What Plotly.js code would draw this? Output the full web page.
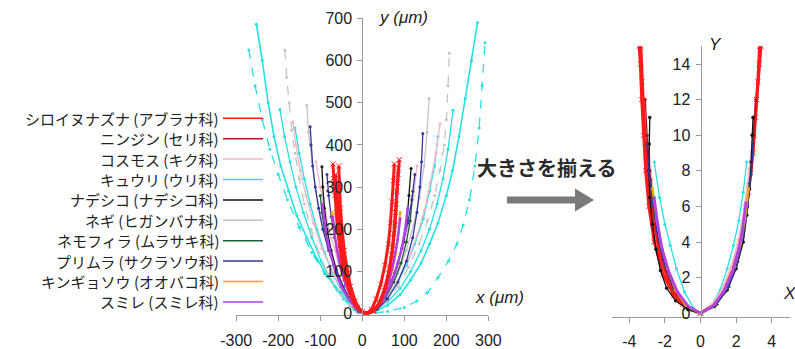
<!DOCTYPE html>
<html><head><meta charset="utf-8">
<script src="https://cdn.plot.ly/plotly-3.0.1.min.js"></script>
<style>html,body{margin:0;padding:0;background:#fff}#chart{width:795px;height:349px}</style>
</head><body><div id="chart"></div>
<script>
// ---------- legend / categories ----------
const speciesNames = ["シロイヌナズナ (アブラナ科)","ニンジン (セリ科)","コスモス (キク科)","キュウリ (ウリ科)","ナデシコ (ナデシコ科)","ネギ (ヒガンバナ科)","ネモフィラ (ムラサキ科)","プリムラ (サクラソウ科)","キンギョソウ (オオバコ科)","スミレ (スミレ科)"];
const speciesColors = ["#ff1a1a","#b0102a","#f2b6c4","#22e2e2","#111111","#c4c4c4","#1d5e38","#3434a0","#f5a800","#b040e8"];

// ---------- raw shapes, x (µm), y (µm) ----------
const kyuuriAX = [-252,-238,-224,-210,-194,-175,-156,-132,-108,-80,-53,-30,-13,10,30,60,90,115,140,160,180,200,215,230,245,260,274];
const kyuuriAY = [686,600,500,420,350,290,233,180,130,85,51,22,5,0,5,20,45,80,120,165,215,280,340,420,510,600,690];
const kyuuriBX = [-270,-255,-238,-220,-200,-178,-150,-120,-90,-60,-30,0,15,60,100,130,155,180,205,225,240,255,268,278,285,292];
const kyuuriBY = [625,540,460,390,330,270,205,145,95,55,20,3,0,5,15,30,50,85,125,165,210,270,350,440,540,642];
const kyuuriCX = [-196,-185,-172,-158,-140,-120,-98,-72,-45,-20,5,30,60,90,115,140,160,178,192,204,216];
const kyuuriCY = [484,420,360,300,240,180,125,75,35,10,0,8,28,60,100,150,200,260,320,390,482];
const kyuuriDX = [-160,-150,-138,-124,-108,-90,-70,-48,-25,5,30,55,80,105,125,145,160,172,180];
const kyuuriDY = [440,380,320,260,200,145,95,52,18,0,10,35,70,115,165,225,290,350,420];
const negiAX = [-184,-180,-174,-168,-160,-150,-138,-122,-104,-82,-58,-32,-10,10,35,60,85,110,135,155,172,185,195,200,204,207];
const negiAY = [625,560,500,435,380,320,260,200,145,95,55,22,5,0,8,30,65,110,165,220,280,340,400,460,540,617];
const negiBX = [-132,-128,-120,-110,-98,-82,-64,-44,-22,10,35,60,85,105,122,136,147,154,159];
const negiBY = [494,430,360,290,225,160,105,58,20,0,15,45,95,150,210,275,350,430,510];
const cosmosAX = [-165,-158,-148,-134,-116,-96,-74,-50,-26,5,30,58,85,110,130,148,162,175,185];
const cosmosAY = [455,400,340,280,215,155,105,60,22,0,10,38,80,130,185,245,310,380,450];
const cosmosBX = [-110,-100,-88,-74,-58,-40,-20,5,30,55,78,98,112,122,130];
const cosmosBY = [360,300,240,180,125,75,30,0,15,50,100,160,220,280,350];
const nadeshikoX = [-96,-94,-90,-84,-74,-62,-46,-28,-10,10,30,50,70,85,98,106,111,116];
const nadeshikoY = [348,300,250,200,150,105,65,30,8,0,10,35,75,120,170,220,280,344];
const primulaAX = [-124,-122,-118,-112,-104,-94,-80,-64,-46,-26,-8,12,35,60,85,105,120,130,137,141,144];
const primulaAY = [443,400,350,300,250,200,150,105,65,28,6,0,10,35,75,125,180,240,300,360,427];
const primulaBX = [-84,-80,-74,-66,-55,-42,-26,-10,10,32,55,76,94,108,118,125];
const primulaBY = [330,280,230,180,135,90,48,14,0,12,45,95,155,215,270,330];
const nemophilaX = [-100,-96,-90,-80,-68,-52,-34,-15,10,35,55,75,92,105,114,120];
const nemophilaY = [280,240,200,155,115,75,40,12,0,12,38,75,120,170,220,290];
const ninjinX = [-60,-58,-54,-48,-40,-30,-18,-5,12,30,48,60,68,74,78,82];
const ninjinY = [290,250,200,150,105,65,30,8,0,10,40,80,130,180,230,290];
const kingyosouX = [-72,-68,-62,-54,-44,-30,-15,0,12,28,45,60,72,80,86,90];
const kingyosouY = [240,200,160,120,80,45,18,5,0,8,30,65,105,145,190,240];
const sumireAX = [-95,-90,-84,-75,-64,-50,-33,-15,8,30,50,68,82,94,102,108];
const sumireAY = [260,220,180,140,100,65,35,12,0,10,35,70,110,155,200,250];
const sumireBX = [-70,-66,-60,-52,-40,-25,-8,12,32,50,64,75,84,90];
const sumireBY = [230,190,150,110,70,35,8,0,12,40,80,125,175,225];
const shiroAX = [-70,-68,-65,-62,-59,-54,-48,-40,-30,-17,0,12,26,40,52,62,70,75,79,82,85,88];
const shiroAY = [355,320,280,240,200,160,120,85,50,20,5,0,6,25,55,95,140,190,240,290,330,365];
const shiroBX = [-56,-54,-52,-48,-43,-36,-28,-17,-5,10,22,33,44,54,62,67,71,74,76];
const shiroBY = [350,300,250,200,150,105,65,30,8,0,10,35,70,115,165,215,265,315,355];
const shiroCX = [-64,-60,-56,-52,-46,-38,-26,-12,5,28,44,56,66,73,78,81,84,86];
const shiroCY = [330,280,230,180,130,85,45,15,0,6,30,65,110,160,210,260,310,345];

// ---------- normalised shapes, X, Y ----------
const nKyuuriX = [-2.6,-2.3,-2.0,-1.7,-1.35,-0.9,-0.4,0,0.6,1.1,1.5,1.85,2.15,2.4,2.6];
const nKyuuriY = [8.5,6.5,5.0,3.8,2.5,1.2,0.3,0,0.4,1.3,2.5,3.8,5.2,6.8,8.5];
const nNegiX = [-2.95,-2.8,-2.6,-2.3,-1.9,-1.3,-0.6,0,0.7,1.4,1.9,2.3,2.6,2.8,2.95];
const nNegiY = [10,8,6,4.2,2.6,1.2,0.3,0,0.3,1.2,2.5,4.0,5.8,7.8,10];
const nCosmosX = [-2.9,-2.7,-2.5,-2.2,-1.8,-1.2,-0.6,0,0.6,1.2,1.7,2.1,2.4,2.65,2.85];
const nCosmosY = [9,7,5.5,3.8,2.4,1.1,0.3,0,0.4,1.3,2.5,3.9,5.5,7.2,9];
const nNinjinX = [-3.1,-3.0,-2.85,-2.65,-2.35,-1.9,-1.3,-0.6,0,0.8,1.4,1.9,2.3,2.6,2.85,3.0,3.1];
const nNinjinY = [12,10,8,6,4,2.4,1.1,0.3,0,0.5,1.4,2.6,4.1,6,8,10,12];
const nNadeshikoX = [-2.85,-2.88,-2.9,-2.85,-2.7,-2.5,-2.25,-1.9,-1.4,-0.7,0,0.8,1.5,2.0,2.4,2.6,2.75,2.85,2.9,2.95];
const nNadeshikoY = [11,9.5,8,6.5,5,3.6,2.4,1.4,0.7,0.2,0,0.4,1.3,2.5,4,5.5,7,8.5,10,11];
const nNemophilaX = [-2.8,-2.6,-2.35,-2.0,-1.5,-0.8,0,0.9,1.5,2.0,2.3,2.55,2.75];
const nNemophilaY = [7.5,5.8,4.2,2.7,1.4,0.4,0,0.5,1.4,2.7,4.0,5.6,7.3];
const nPrimulaX = [-3.0,-2.9,-2.7,-2.45,-2.1,-1.6,-0.9,0,0.9,1.6,2.1,2.4,2.65,2.85,2.95];
const nPrimulaY = [9.5,8,6.2,4.6,3.0,1.6,0.5,0,0.5,1.5,2.9,4.3,6.0,7.8,9.5];
const nKingyosouX = [-2.7,-2.45,-2.2,-1.85,-1.4,-0.8,0,0.8,1.4,1.9,2.25,2.5,2.7];
const nKingyosouY = [7,5.2,3.8,2.5,1.3,0.4,0,0.5,1.4,2.6,3.9,5.3,7];
const nShiroAX = [-3.45,-3.38,-3.3,-3.2,-3.08,-2.9,-2.6,-2.1,-1.5,-0.8,0,0.7,1.3,1.8,2.2,2.55,2.8,3.0,3.15,3.3,3.4];
const nShiroAY = [15,14,12,10,8,6,4,2.2,1.0,0.3,0,0.4,1.3,2.5,4,6,8,10,12,14,15];
const nShiroBX = [-3.35,-3.28,-3.18,-3.05,-2.85,-2.6,-2.25,-1.7,-1.0,0,0.9,1.5,2.0,2.4,2.7,2.95,3.1,3.22,3.32];
const nShiroBY = [15,13,11,9,7,5,3.2,1.6,0.5,0,0.6,1.6,3.0,4.8,6.8,9,11,13,15];
const nSumireX = [-2.6,-2.4,-2.15,-1.8,-1.3,-0.7,0,0.7,1.3,1.8,2.1,2.35,2.55];
const nSumireY = [6.5,5,3.6,2.4,1.2,0.4,0,0.4,1.2,2.3,3.4,4.6,6.2];

// ---------- tick labels ----------
const rawXTicks = [-300,-200,-100,0,100,200,300];
const rawYTicks = [0,100,200,300,400,500,600,700];
const normXTicks = [-4,-2,0,2,4];
const normYTicks = [0,2,4,6,8,10,12,14];

const C = speciesColors;
function tr(x, y, ci, ax, opt) {
  opt = opt || {};
  return {
    type: 'scatter', mode: 'lines+markers', x: x, y: y,
    xaxis: ax === 2 ? 'x2' : 'x', yaxis: ax === 2 ? 'y2' : 'y',
    name: speciesNames[ci], showlegend: false, hoverinfo: 'skip',
    line: {color: C[ci], width: opt.w || 1.3, dash: opt.dash || 'solid'},
    marker: {color: C[ci], size: opt.ms || 3, symbol: opt.sym || 'circle', line: {width: opt.sym ? 1 : 0, color: C[ci]}}
  };
}
const redOpt = {w: 3, ms: 5, sym: 'x-thin'};
const traces = [
  tr(kyuuriAX, kyuuriAY, 3, 1, {w: 1.6}),
  tr(kyuuriBX, kyuuriBY, 3, 1, {dash: 'dash'}),
  tr(kyuuriCX, kyuuriCY, 3, 1),
  tr(kyuuriDX, kyuuriDY, 3, 1),
  tr(negiAX, negiAY, 5, 1, {dash: 'dash'}),
  tr(negiBX, negiBY, 5, 1),
  tr(cosmosAX, cosmosAY, 2, 1),
  tr(cosmosBX, cosmosBY, 2, 1),
  tr(ninjinX, ninjinY, 1, 1),
  tr(nadeshikoX, nadeshikoY, 4, 1),
  tr(nemophilaX, nemophilaY, 6, 1),
  tr(primulaAX, primulaAY, 7, 1),
  tr(primulaBX, primulaBY, 7, 1),
  tr(kingyosouX, kingyosouY, 8, 1, {w: 2}),
  tr(sumireAX, sumireAY, 9, 1, {w: 2.4}),
  tr(sumireBX, sumireBY, 9, 1, {w: 2.4}),
  tr(shiroAX, shiroAY, 0, 1, redOpt),
  tr(shiroBX, shiroBY, 0, 1, redOpt),
  tr(shiroCX, shiroCY, 0, 1, redOpt),
  // normalised (red drawn first, under the others)
  tr(nShiroAX, nShiroAY, 0, 2, redOpt),
  tr(nShiroBX, nShiroBY, 0, 2, redOpt),
  tr(nKyuuriX, nKyuuriY, 3, 2),
  tr(nNegiX, nNegiY, 5, 2),
  tr(nCosmosX, nCosmosY, 2, 2, {w: 2}),
  tr(nNinjinX, nNinjinY, 1, 2),
  tr(nNadeshikoX, nNadeshikoY, 4, 2, {ms: 3.5}),
  tr(nNemophilaX, nNemophilaY, 6, 2),
  tr(nPrimulaX, nPrimulaY, 7, 2),
  tr(nKingyosouX, nKingyosouY, 8, 2, {w: 2.2}),
  tr(nSumireX, nSumireY, 9, 2, {w: 2.6})
];

const FONT = 'Liberation Sans, Arial, Noto Sans CJK JP, sans-serif';
const JFONT = 'Noto Sans CJK JP, Liberation Sans, sans-serif';
const axCommon = {showgrid: false, zeroline: false, showline: true, linecolor: '#9a9a9a', linewidth: 1,
  ticks: 'outside', ticklen: 5, tickcolor: '#9a9a9a', tickfont: {family: FONT, size: 16, color: '#222'},
  fixedrange: true, tickmode: 'array'};

const annotations = [];
const shapes = [];
speciesNames.forEach((n, i) => {
  const py = 118.3 + i * 20.4;
  const yp = (349 - py) / 349;
  annotations.push({xref: 'paper', yref: 'paper', x: 220 / 795, y: yp, xanchor: 'right', yanchor: 'middle',
    text: n, showarrow: false, borderpad: 0, font: {family: JFONT, size: 15, color: '#222'}});
  shapes.push({type: 'line', xref: 'paper', yref: 'paper', x0: 223 / 795, x1: 263 / 795, y0: yp, y1: yp,
    line: {color: C[i], width: 1.5}});
});
annotations.push(
  {xref: 'paper', yref: 'paper', x: 377 / 795, y: (349 - 17) / 349, xanchor: 'left', yanchor: 'middle', showarrow: false,
   text: '<i>y</i> <i>(μm)</i>', font: {family: FONT, size: 17, color: '#222'}},
  {xref: 'paper', yref: 'paper', x: 473 / 795, y: (349 - 297) / 349, xanchor: 'left', yanchor: 'middle', showarrow: false,
   text: '<i>x (μm)</i>', font: {family: FONT, size: 17, color: '#222'}},
  {xref: 'paper', yref: 'paper', x: 707 / 795, y: (349 - 45) / 349, xanchor: 'left', yanchor: 'middle', showarrow: false,
   text: '<i>Y</i>', font: {family: FONT, size: 17, color: '#222'}},
  {xref: 'paper', yref: 'paper', x: 781 / 795, y: (349 - 293) / 349, xanchor: 'left', yanchor: 'middle', showarrow: false,
   text: '<i>X</i>', font: {family: FONT, size: 17, color: '#222'}},
  {xref: 'paper', yref: 'paper', x: 546 / 795, y: (349 - 167) / 349, xanchor: 'center', yanchor: 'middle', showarrow: false,
   text: '<b>大きさを揃える</b>', font: {family: JFONT, size: 20, color: '#2a2a2a'}}
);
const P = (x, y) => (x / 795).toFixed(4) + ',' + ((349 - y) / 349).toFixed(4);
shapes.push({type: 'path', xref: 'paper', yref: 'paper', fillcolor: '#7a7a7a', line: {width: 0},
  path: 'M' + P(507, 196.5) + ' L' + P(575, 196.5) + ' L' + P(575, 188.5) + ' L' + P(594, 200) + ' L' + P(575, 211.5) + ' L' + P(575, 203.5) + ' L' + P(507, 203.5) + ' Z'});

const layout = {
  width: 795, height: 349, margin: {l: 0, r: 0, t: 0, b: 0},
  paper_bgcolor: '#fff', plot_bgcolor: 'rgba(0,0,0,0)', showlegend: false,
  font: {family: FONT},
  xaxis: Object.assign({}, axCommon, {domain: [236.2 / 795, 488.4 / 795], range: [-300, 300], anchor: 'y',
    tickvals: rawXTicks, ticktext: rawXTicks.map(String), ticklabelstandoff: 5}),
  yaxis: Object.assign({}, axCommon, {domain: [(349 - 315.4) / 349, (349 - 18.3) / 349], range: [-4, 700], anchor: 'free',
    position: 362.3 / 795, tickvals: rawYTicks, ticktext: rawYTicks.map(String), ticklabelstandoff: 2}),
  xaxis2: Object.assign({}, axCommon, {domain: [611.5 / 795, 789.5 / 795], range: [-5, 5], anchor: 'y2',
    tickvals: normXTicks, ticktext: normXTicks.map(String), ticklabelstandoff: 5}),
  yaxis2: Object.assign({}, axCommon, {domain: [(349 - 316.8) / 349, (349 - 46.2) / 349], range: [-0.2, 15], anchor: 'free',
    position: 700.5 / 795, tickvals: normYTicks, ticktext: normYTicks.map(String), ticklabelstandoff: 2}),
  annotations: annotations, shapes: shapes
};
Plotly.newPlot('chart', traces, layout, {staticPlot: true, displayModeBar: false});
</script></body></html>
